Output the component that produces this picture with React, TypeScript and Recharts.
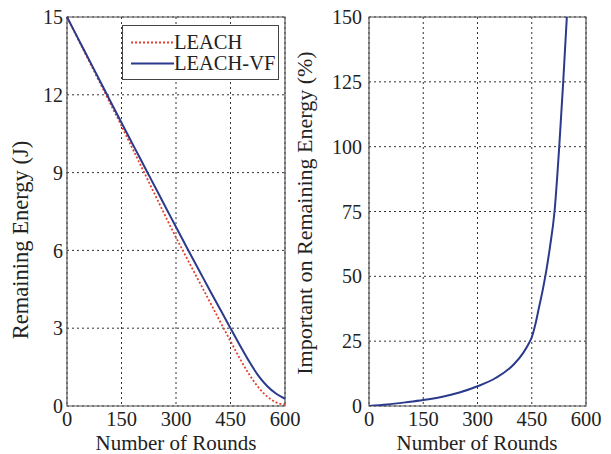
import React from 'react';
import { LineChart, Line, XAxis, YAxis, CartesianGrid, ReferenceArea, Legend } from 'recharts';

const FONT = "'Liberation Serif', Tinos, 'DejaVu Serif', 'Times New Roman', serif";
const TEXT = '#222';

// left panel: remaining energy per round
const rounds = [0, 25, 50, 75, 100, 125, 150, 175, 200, 225, 250, 275, 300, 325, 350, 375, 400, 425, 450, 475, 500, 525, 550, 575, 600];
const leach = [15, 14.3, 13.6, 12.9, 12.2, 11.5, 10.8, 10.08, 9.36, 8.64, 7.92, 7.2, 6.5, 5.83, 5.16, 4.5, 3.83, 3.16, 2.5, 1.85, 1.25, 0.75, 0.38, 0.14, 0.05];
const leachVf = [15, 14.32, 13.64, 12.96, 12.28, 11.6, 10.92, 10.25, 9.58, 8.91, 8.24, 7.57, 6.9, 6.24, 5.58, 4.93, 4.28, 3.64, 3.0, 2.36, 1.75, 1.2, 0.78, 0.48, 0.28];

// right panel: importance on remaining energy (%)
const impRounds = [0, 50, 100, 150, 200, 250, 300, 350, 400, 426, 440, 450, 460, 470, 480, 490, 500, 513, 526, 537, 547];
const importance = [0, 0.6, 1.4, 2.3, 3.5, 5.2, 7.6, 10.8, 16, 20.4, 23.6, 26.5, 31.5, 38, 44.5, 52, 61, 75, 100, 125, 150];

const xTicks = [0, 150, 300, 450, 600];
const energyTicks = [0, 3, 6, 9, 12, 15];
const impTicks = [0, 25, 50, 75, 100, 125, 150];

const energyData = rounds.map((r, i) => ({ round: r, leach: leach[i], leachVf: leachVf[i] }));
const impData = impRounds.map((r, i) => ({ round: r, value: importance[i] }));

const RED = '#e2412f';
const BLUE = '#2b3a8c';

const xTick = { fontSize: 20.5, fill: TEXT, fontFamily: FONT };
const yTick = { fontSize: 20, fill: TEXT, fontFamily: FONT };

const renderLegend = () => (
  <div
    style={{
      width: 157,
      height: 55,
      boxSizing: 'border-box',
      border: '1px solid #444',
      background: '#fff',
      paddingTop: 6,
      fontFamily: FONT,
      fontSize: 20.5,
      color: TEXT,
    }}
  >
    {[
      { name: 'LEACH', color: RED, dash: '2 2' },
      { name: 'LEACH-VF', color: BLUE, dash: undefined },
    ].map((it) => (
      <div key={it.name} style={{ display: 'flex', alignItems: 'center', height: 21, lineHeight: '21px' }}>
        <svg width={51} height={21} style={{ flex: 'none' }}>
          <line x1={8} x2={51} y1={10.5} y2={10.5} stroke={it.color} strokeWidth={2} strokeDasharray={it.dash} />
        </svg>
        <span style={{ whiteSpace: 'nowrap' }}>{it.name}</span>
      </div>
    ))}
  </div>
);

const AxisTitle = ({ x, y, text, rotate, size }: { x: number; y: number; text: string; rotate?: boolean; size: number }) => (
  <div
    style={{
      position: 'absolute',
      left: x,
      top: y,
      transform: `translate(-50%, -50%)${rotate ? ' rotate(-90deg)' : ''}`,
      whiteSpace: 'nowrap',
      fontFamily: FONT,
      fontSize: size,
      lineHeight: 1,
      color: TEXT,
    }}
  >
    {text}
  </div>
);

export default function App() {
  return (
    <div style={{ position: 'fixed', left: 0, top: 0, width: 611, height: 454, background: '#fff', overflow: 'hidden' }}>
      {/* Remaining energy */}
      <div style={{ position: 'absolute', left: 0, top: 0 }}>
        <LineChart width={305} height={454} data={energyData} margin={{ top: 17, right: 20, bottom: 0, left: 0 }}>
          <CartesianGrid stroke="#333" strokeDasharray="2 3" />
          <XAxis
            dataKey="round"
            type="number"
            domain={[0, 600]}
            ticks={xTicks}
            height={48}
            axisLine={false}
            tickLine={false}
            tickSize={0}
            tickMargin={5}
            tick={xTick}
          />
          <YAxis
            type="number"
            domain={[0, 15]}
            ticks={energyTicks}
            width={67}
            axisLine={false}
            tickLine={false}
            tickSize={0}
            tickMargin={4}
            tick={yTick}
          />
          <ReferenceArea x1={0} x2={600} y1={0} y2={15} fill="none" stroke="#555" strokeWidth={1.2} />
          <Line type="monotone" dataKey="leach" stroke={RED} strokeWidth={1.8} strokeDasharray="2 2" dot={false} isAnimationActive={false} />
          <Line type="monotone" dataKey="leachVf" stroke={BLUE} strokeWidth={2} dot={false} isAnimationActive={false} />
          <Legend
            layout="vertical"
            align="center"
            verticalAlign="middle"
            wrapperStyle={{ top: 25, left: 122, width: 157, height: 55 }}
            content={renderLegend}
          />
        </LineChart>
      </div>

      {/* Importance on remaining energy */}
      <div style={{ position: 'absolute', left: 285, top: 0 }}>
        <LineChart width={326} height={454} data={impData} margin={{ top: 17, right: 25, bottom: 0, left: 0 }}>
          <CartesianGrid stroke="#333" strokeDasharray="2 3" />
          <XAxis
            dataKey="round"
            type="number"
            domain={[0, 600]}
            ticks={xTicks}
            height={48}
            axisLine={false}
            tickLine={false}
            tickSize={0}
            tickMargin={5}
            tick={xTick}
          />
          <YAxis
            type="number"
            domain={[0, 150]}
            ticks={impTicks}
            allowDataOverflow
            width={84}
            axisLine={false}
            tickLine={false}
            tickSize={0}
            tickMargin={7}
            tick={yTick}
          />
          <ReferenceArea x1={0} x2={600} y1={0} y2={150} fill="none" stroke="#555" strokeWidth={1.2} />
          <Line type="monotone" dataKey="value" stroke={BLUE} strokeWidth={2} dot={false} isAnimationActive={false} />
        </LineChart>
      </div>

      <AxisTitle x={21} y={240} text="Remaining Energy (J)" rotate size={22.5} />
      <AxisTitle x={305} y={213} text="Important on Remaining Energy (%)" rotate size={22} />
      <AxisTitle x={176} y={443} text="Number of Rounds" size={21} />
      <AxisTitle x={477} y={443} text="Number of Rounds" size={21} />
    </div>
  );
}
